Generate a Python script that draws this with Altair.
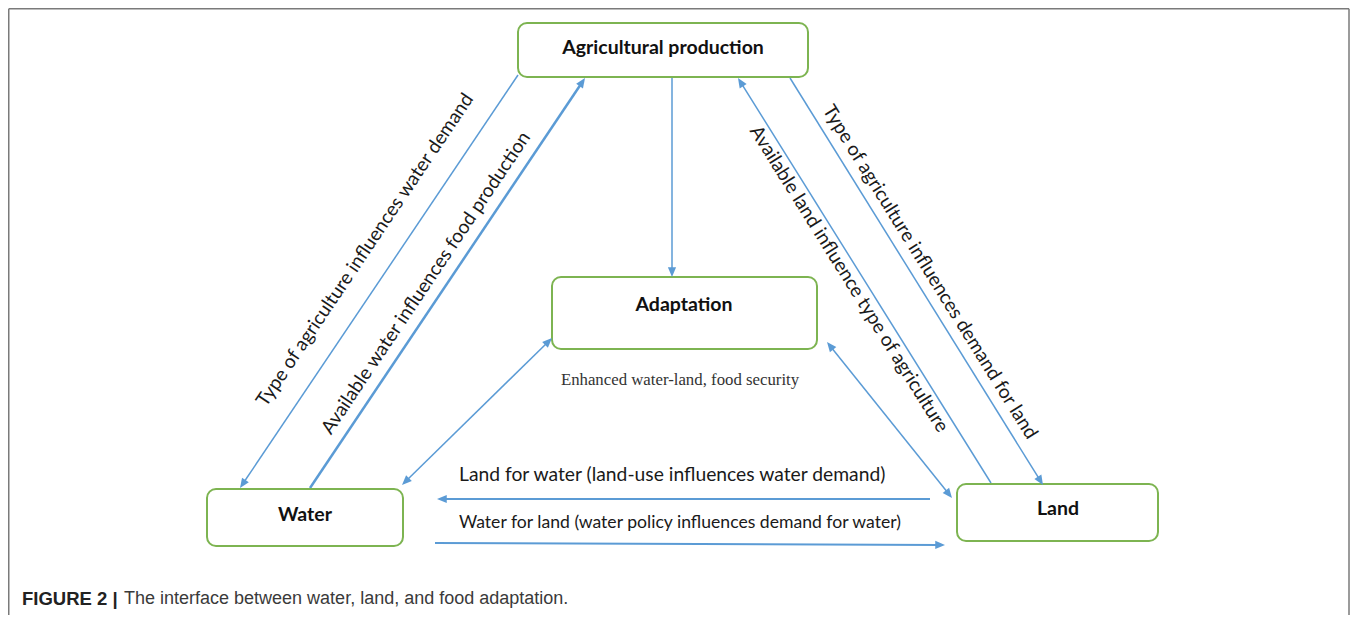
import math
import altair as alt
import pandas as pd

# ---------------- data (diagram geometry) ----------------
node_names = ["Agricultural production", "Adaptation", "Water", "Land"]
node_x1 = [518, 552, 207, 957]
node_x2 = [808, 817, 403, 1158]
node_y1 = [23, 277, 489, 484]
node_y2 = [77, 349, 546, 541]
node_label_x = [663, 684, 305, 1058]
node_label_y = [48, 305, 515, 509]

edge_x1 = [518, 310, 672, 991, 790, 552, 827, 930, 435]
edge_y1 = [75, 488, 77, 483, 78, 338, 342, 499, 543]
edge_x2 = [240, 585, 672, 738, 1043, 402, 952, 437, 945]
edge_y2 = [488, 78, 277, 78, 485, 485, 498, 499, 545]
edge_head_start = [False, False, False, False, False, True, True, False, False]
edge_head_end = [True, True, True, True, True, True, True, True, True]
edge_width = [1.5, 2.5, 1.5, 1.5, 1.5, 1.5, 1.5, 2.0, 2.0]

diag_texts = [
    "Type of agriculture influences water demand",
    "Available water influences food production",
    "Available land influence type of agriculture",
    "Type of agriculture influences demand for land",
]
diag_x = [365, 426, 849, 930]
diag_y = [250, 283, 279, 272]
diag_edge = [0, 1, 3, 4]

horiz_texts = [
    "Land for water (land-use influences water demand)",
    "Water for land (water policy influences demand for water)",
]
horiz_x = [459, 459]
horiz_y = [475, 523]

subtitle_text = ["Enhanced water-land, food security"]
subtitle_x = [680]
subtitle_y = [380]

caption_texts = ["FIGURE 2 |", "The interface between water, land, and food adaptation."]
caption_x = [22, 124]
caption_y = [599, 599]
caption_bold = [True, False]

frame_x1 = [8.75, 8.75, 1349.0]
frame_y1 = [8.75, 8.75, 8.75]
frame_x2 = [1349.0, 8.75, 1349.0]
frame_y2 = [8.75, 615.0, 615.0]

# ---------------- derived tables ----------------
nodes = pd.DataFrame({"name": node_names, "x": node_x1, "x2": node_x2,
                      "y": node_y1, "y2": node_y2,
                      "lx": node_label_x, "ly": node_label_y})

seg_rows, head_rows = [], []
for i in range(len(edge_x1)):
    x1, y1, x2, y2 = edge_x1[i], edge_y1[i], edge_x2[i], edge_y2[i]
    dx, dy = x2 - x1, y2 - y1
    L = math.hypot(dx, dy)
    ux, uy = dx / L, dy / L
    sx1, sy1, sx2, sy2 = x1, y1, x2, y2
    if edge_head_end[i]:
        head_rows.append({"x": x2, "y": y2,
                          "angle": (math.degrees(math.atan2(dx, -dy)) + 360) % 360})
        sx2, sy2 = x2 - ux * 6, y2 - uy * 6
    if edge_head_start[i]:
        head_rows.append({"x": x1, "y": y1,
                          "angle": (math.degrees(math.atan2(-dx, dy)) + 360) % 360})
        sx1, sy1 = x1 + ux * 6, y1 + uy * 6
    seg_rows.append({"x": sx1, "y": sy1, "x2": sx2, "y2": sy2, "w": edge_width[i]})
segs = pd.DataFrame(seg_rows)
heads = pd.DataFrame(head_rows)

diag_rows = []
for t, x, y, e in zip(diag_texts, diag_x, diag_y, diag_edge):
    dx = edge_x2[e] - edge_x1[e]
    dy = edge_y2[e] - edge_y1[e]
    if dx < 0:
        dx, dy = -dx, -dy
    diag_rows.append({"t": t, "x": x, "y": y,
                      "angle": (math.degrees(math.atan2(dy, dx)) + 360) % 360})
diag = pd.DataFrame(diag_rows)

horiz = pd.DataFrame({"t": horiz_texts, "x": horiz_x, "y": horiz_y})
subtitle = pd.DataFrame({"t": subtitle_text, "x": subtitle_x, "y": subtitle_y})
caption = pd.DataFrame({"t": caption_texts, "x": caption_x, "y": caption_y, "b": caption_bold})
frame = pd.DataFrame({"x": frame_x1, "y": frame_y1, "x2": frame_x2, "y2": frame_y2})

# ---------------- chart ----------------
xs = alt.Scale(domain=[8, 1350], nice=False, zero=False)
ys = alt.Scale(domain=[8, 615], nice=False, zero=False, reverse=True)
X = alt.X("x:Q", scale=xs, axis=None)
Y = alt.Y("y:Q", scale=ys, axis=None)

BLUE = "#5b9bd5"
GREEN = "#7db451"

frame_layer = alt.Chart(frame).mark_rule(color="#7a7a7a", strokeWidth=1.5).encode(
    x=X, y=Y, x2="x2:Q", y2="y2:Q")

box_layer = alt.Chart(nodes).mark_rect(
    fill="white", stroke=GREEN, strokeWidth=2, cornerRadius=9).encode(
    x=X, y=Y, x2="x2:Q", y2="y2:Q")

seg_layer = alt.Chart(segs).mark_rule(color=BLUE).encode(
    x=X, y=Y, x2="x2:Q", y2="y2:Q",
    strokeWidth=alt.StrokeWidth("w:Q", scale=None))

head_layer = alt.Chart(heads).mark_point(
    shape="M0,0L0.42,1L-0.42,1Z", filled=True, color=BLUE, opacity=1,
    size=380, strokeWidth=0).encode(
    x=X, y=Y, angle=alt.Angle("angle:Q", scale=None))

node_text = alt.Chart(nodes).mark_text(
    font="Lato", fontWeight="bold", fontSize=19.5, color="#111111",
    align="center", baseline="middle").encode(
    x=alt.X("lx:Q", scale=xs, axis=None), y=alt.Y("ly:Q", scale=ys, axis=None), text="name:N")

diag_text = alt.Chart(diag).mark_text(
    font="Lato", fontSize=19.2, color="#1a1a1a", align="center", baseline="middle").encode(
    x=X, y=Y, text="t:N", angle=alt.Angle("angle:Q", scale=None))

horiz_text1 = alt.Chart(horiz.iloc[[0]]).mark_text(
    font="Lato", fontSize=19.3, color="#1a1a1a", align="left", baseline="middle").encode(
    x=X, y=Y, text="t:N")
horiz_text2 = alt.Chart(horiz.iloc[[1]]).mark_text(
    font="Lato", fontSize=17.6, color="#1a1a1a", align="left", baseline="middle").encode(
    x=X, y=Y, text="t:N")

sub_text = alt.Chart(subtitle).mark_text(
    font="Liberation Serif", fontSize=16.8, color="#333333", align="center", baseline="middle").encode(
    x=X, y=Y, text="t:N")

cap_bold = alt.Chart(caption[caption["b"]]).mark_text(
    font="Liberation Sans", fontWeight="bold", fontSize=18.5, color="#222222",
    align="left", baseline="middle").encode(x=X, y=Y, text="t:N")
cap_reg = alt.Chart(caption[~caption["b"]]).mark_text(
    font="Liberation Sans", fontSize=18, color="#3a3a3a",
    align="left", baseline="middle").encode(x=X, y=Y, text="t:N")

chart = alt.layer(
    frame_layer, seg_layer, box_layer, head_layer, node_text,
    diag_text, horiz_text1, horiz_text2, sub_text, cap_bold, cap_reg
).properties(
    width=1342, height=607, padding=0,
    autosize=alt.AutoSizeParams(type="none"),
    background="white",
).configure_view(stroke=None)

chart.save("out.html", embed_options={"renderer": "svg", "actions": False})
